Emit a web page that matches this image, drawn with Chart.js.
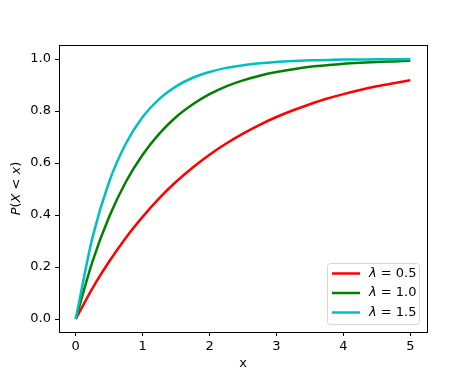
<!DOCTYPE html>
<html>
<head>
  <title>Exponential CDF</title>
  <script src="https://cdn.jsdelivr.net/npm/chart.js@4/dist/chart.umd.min.js"></script>
  <style>
    body {
      margin: 0;
      background: #fff;
    }
    #chart {
      display: block;
    }
  </style>
</head>
<body>
  <canvas id="chart" width="474" height="379"></canvas>

  <script>
    // values
    const xValues = [0, 0.25, 0.5, 0.75, 1, 1.25, 1.5, 1.75, 2, 2.25, 2.5, 2.75, 3, 3.25, 3.5, 3.75, 4, 4.25, 4.5, 4.75, 5];
    const lambda05 = [0, 0.118, 0.221, 0.313, 0.393, 0.465, 0.528, 0.583, 0.632, 0.675, 0.713, 0.747, 0.777, 0.803, 0.826, 0.847, 0.865, 0.881, 0.895, 0.907, 0.918];
    const lambda10 = [0, 0.221, 0.393, 0.528, 0.632, 0.713, 0.777, 0.826, 0.865, 0.895, 0.918, 0.936, 0.950, 0.961, 0.970, 0.976, 0.982, 0.986, 0.989, 0.991, 0.993];
    const lambda15 = [0, 0.313, 0.528, 0.675, 0.777, 0.847, 0.895, 0.928, 0.950, 0.966, 0.976, 0.984, 0.989, 0.992, 0.995, 0.996, 0.998, 0.998, 0.999, 0.999, 0.999];
    const seriesLabels = ['0.5', '1.0', '1.5'];
    const xTicks = [0, 1, 2, 3, 4, 5];
    const yTicks = [0, 0.2, 0.4, 0.6, 0.8, 1.0];

    const colors = ['#ff0000', '#008000', '#00bfbf'];
    const font = 'DejaVu Sans';

    function points(ys) {
      return xValues.map((x, i) => ({ x: x, y: ys[i] }));
    }

    // frame, axis labels and legend drawn by hand, matplotlib style
    const decorations = {
      id: 'decorations',
      afterDraw(chart) {
        const ctx = chart.ctx;
        const a = chart.chartArea;
        ctx.save();
        ctx.strokeStyle = '#000';
        ctx.lineWidth = 1;
        ctx.strokeRect(a.left + 0.5, a.top + 0.5, a.right - a.left, a.bottom - a.top);

        ctx.fillStyle = '#000';
        ctx.textAlign = 'center';
        ctx.textBaseline = 'middle';
        ctx.font = '13px "' + font + '"';
        ctx.fillText('x', (a.left + a.right) / 2, 364);

        // y label: P(X < x) with italic letters
        ctx.translate(17, (a.top + a.bottom) / 2);
        ctx.rotate(-Math.PI / 2);
        const parts = [['P', true], ['(', false], ['X', true], [' < ', false], ['x', true], [')', false]];
        let total = 0;
        parts.forEach(p => {
          ctx.font = (p[1] ? 'italic ' : '') + '13px "' + font + '"';
          total += ctx.measureText(p[0]).width;
        });
        let px = -total / 2;
        ctx.textAlign = 'left';
        parts.forEach(p => {
          ctx.font = (p[1] ? 'italic ' : '') + '13px "' + font + '"';
          ctx.fillText(p[0], px, 0);
          px += ctx.measureText(p[0]).width;
        });
        ctx.restore();

        // legend
        ctx.save();
        const lx = 327, ly = 263, lw = 92, lh = 61;
        ctx.beginPath();
        ctx.roundRect(lx + 0.5, ly + 0.5, lw, lh, 3);
        ctx.fillStyle = 'rgba(255,255,255,0.8)';
        ctx.fill();
        ctx.strokeStyle = '#d6d6d6';
        ctx.lineWidth = 1;
        ctx.stroke();
        const rows = [273.5, 293, 312.5];
        chart.data.datasets.forEach((ds, i) => {
          ctx.strokeStyle = ds.borderColor;
          ctx.lineWidth = 2.5;
          ctx.beginPath();
          ctx.moveTo(332, rows[i]);
          ctx.lineTo(360, rows[i]);
          ctx.stroke();
          ctx.fillStyle = '#000';
          ctx.textBaseline = 'middle';
          ctx.textAlign = 'left';
          ctx.font = 'italic 13px "' + font + '"';
          ctx.fillText('\u03bb', 369, rows[i]);
          const w = ctx.measureText('\u03bb').width;
          ctx.font = '13px "' + font + '"';
          ctx.fillText(' = ' + seriesLabels[i], 369 + w, rows[i]);
        });
        ctx.restore();
      }
    };

    new Chart(document.getElementById('chart'), {
      type: 'line',
      data: {
        datasets: [
          { label: 'lambda 0.5', data: points(lambda05), borderColor: colors[0], order: 2 },
          { label: 'lambda 1.0', data: points(lambda10), borderColor: colors[1], order: 1 },
          { label: 'lambda 1.5', data: points(lambda15), borderColor: colors[2], order: 0 }
        ]
      },
      options: {
        responsive: false,
        animation: false,
        layout: { padding: { left: 0, top: 45, right: 47, bottom: 0 } },
        elements: {
          point: { radius: 0 },
          line: { borderWidth: 2.5, cubicInterpolationMode: 'monotone', fill: false }
        },
        plugins: {
          legend: { display: false },
          tooltip: { enabled: false }
        },
        scales: {
          x: {
            type: 'linear',
            min: -0.25,
            max: 5.25,
            afterBuildTicks: s => { s.ticks = xTicks.map(v => ({ value: v })); },
            afterFit: s => { s.height = 47; },
            border: { display: false },
            grid: { drawOnChartArea: false, drawTicks: true, tickLength: 4, color: '#000' },
            ticks: { color: '#000', padding: 3, maxRotation: 0, font: { family: font, size: 13 } }
          },
          y: {
            min: -0.05,
            max: 1.054,
            afterBuildTicks: s => { s.ticks = yTicks.map(v => ({ value: v })); },
            afterFit: s => { s.width = 59; },
            border: { display: false },
            grid: { drawOnChartArea: false, drawTicks: true, tickLength: 4, color: '#000' },
            ticks: {
              color: '#000',
              padding: 4,
              font: { family: font, size: 13 },
              callback: v => v.toFixed(1)
            }
          }
        }
      },
      plugins: [decorations]
    });
  </script>
</body>
</html>
